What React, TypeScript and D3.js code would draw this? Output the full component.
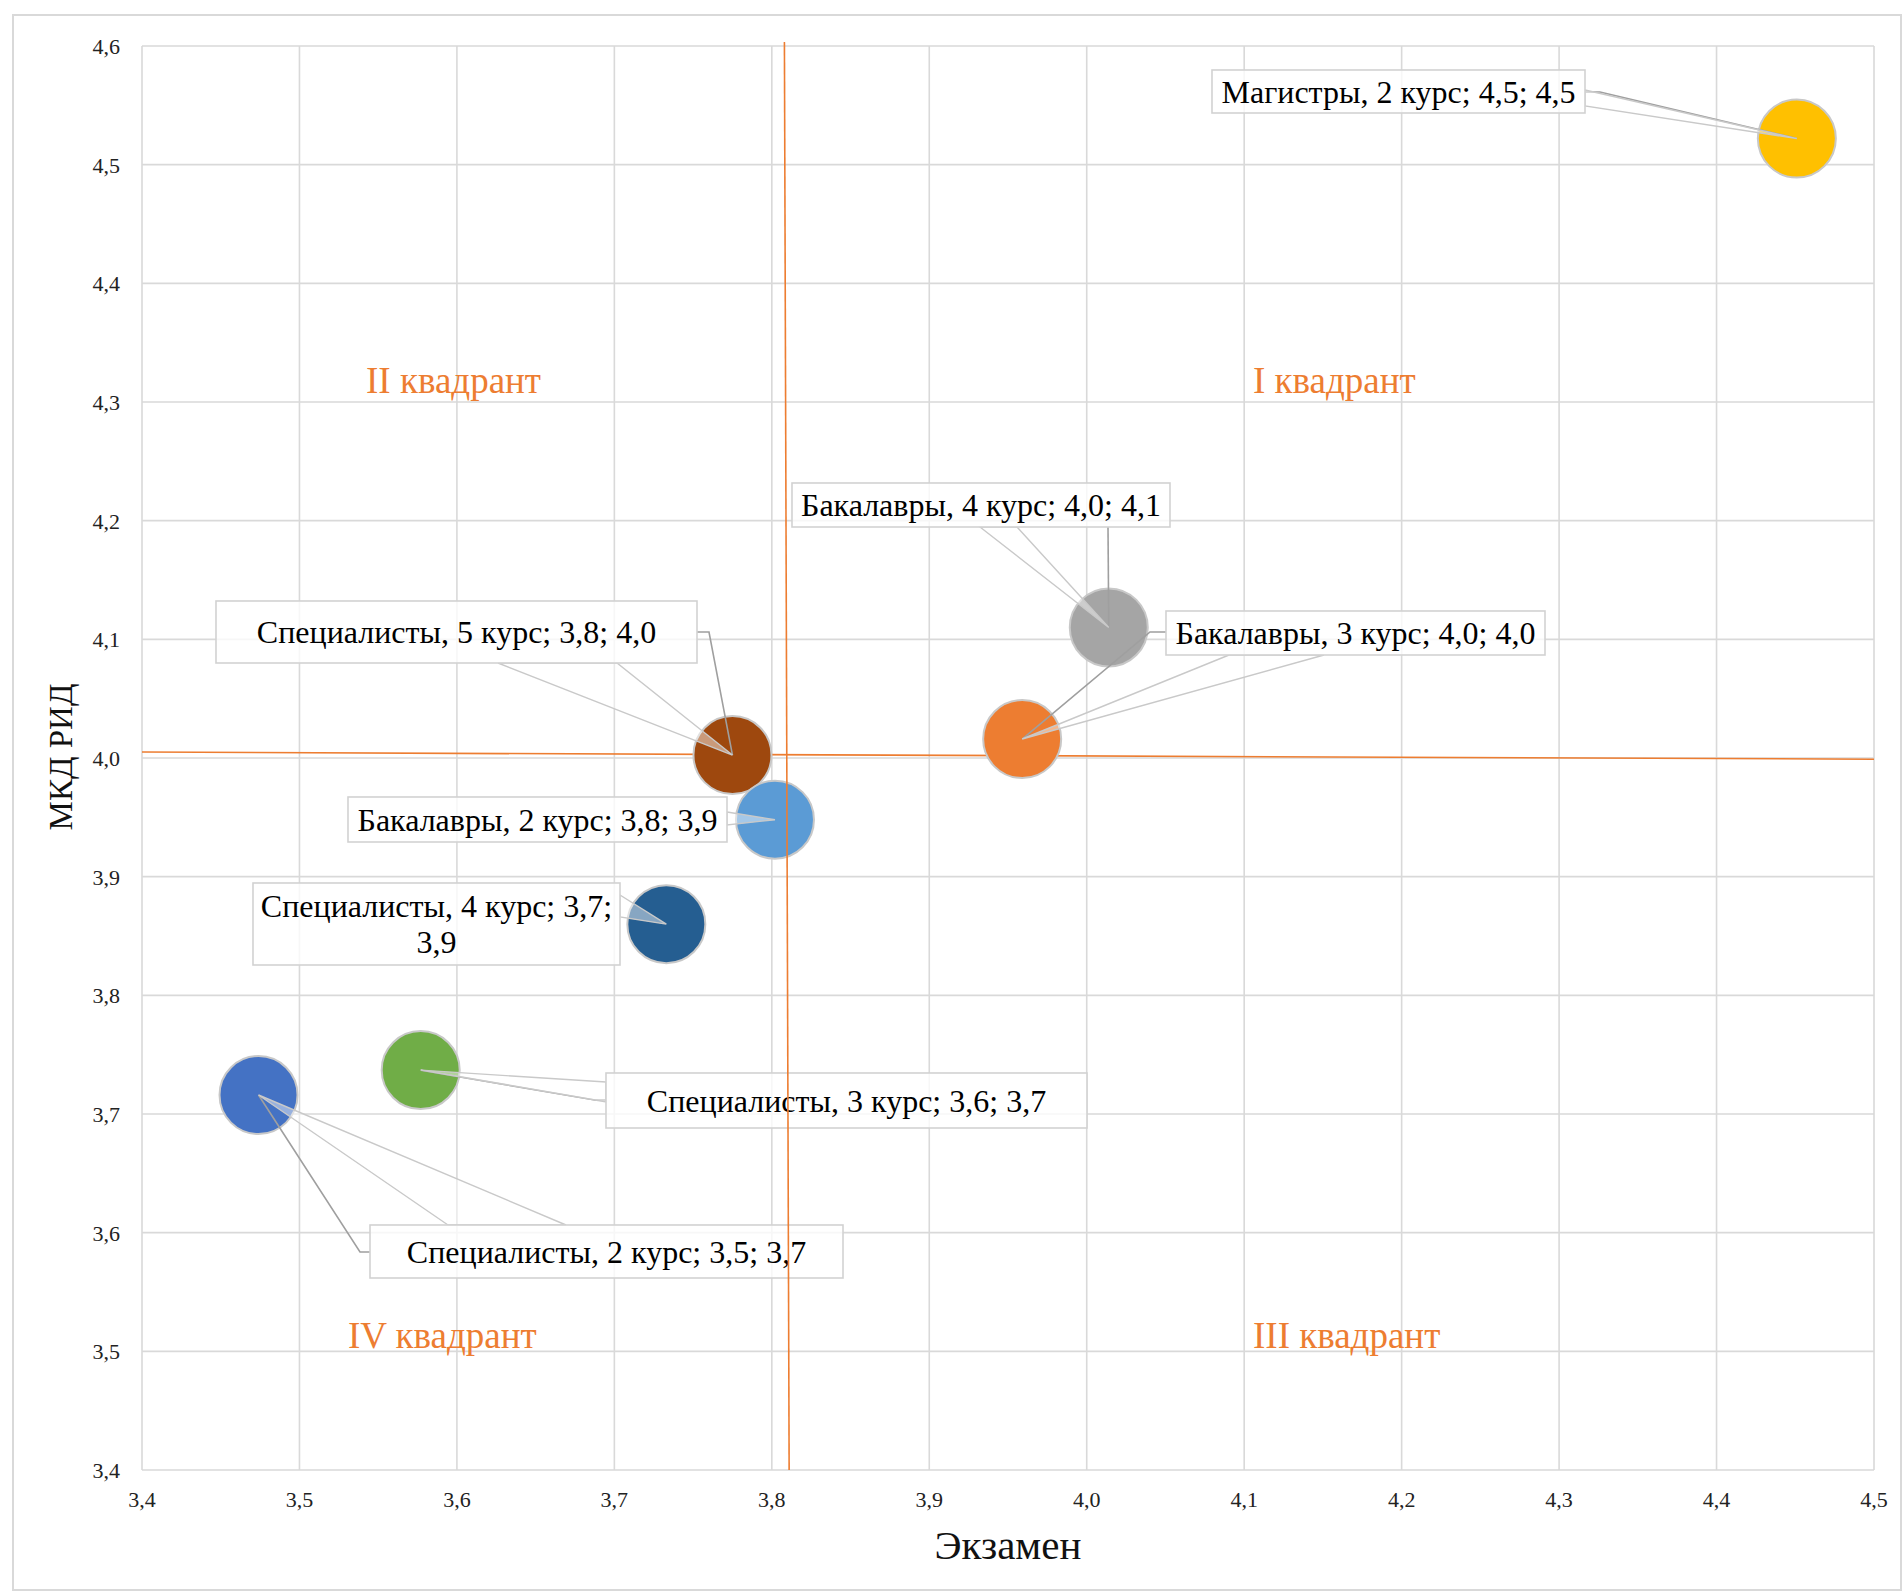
import React from "react";
import * as d3 from "d3";

// ---- data ----
const groups = [
  "Магистры, 2 курс",
  "Бакалавры, 4 курс",
  "Бакалавры, 3 курс",
  "Специалисты, 5 курс",
  "Бакалавры, 2 курс",
  "Специалисты, 4 курс",
  "Специалисты, 3 курс",
  "Специалисты, 2 курс",
];
const examScores = [4.451, 4.014, 3.959, 3.775, 3.802, 3.733, 3.577, 3.474];
const ridScores = [4.522, 4.11, 4.016, 4.0025, 3.948, 3.86, 3.737, 3.716];
const bubbleColors = ["#FFC000", "#A5A5A5", "#ED7D31", "#9E480E", "#5B9BD5", "#255E91", "#70AD47", "#4472C4"];

const xTickValues = [3.4, 3.5, 3.6, 3.7, 3.8, 3.9, 4.0, 4.1, 4.2, 4.3, 4.4, 4.5];
const yTickValues = [3.4, 3.5, 3.6, 3.7, 3.8, 3.9, 4.0, 4.1, 4.2, 4.3, 4.4, 4.5, 4.6];

const verticalDivider = [
  { x: 3.808, y: 4.6034 },
  { x: 3.811, y: 3.4 },
];
const horizontalDivider = [
  { x: 3.4, y: 4.005 },
  { x: 4.5, y: 3.999 },
];

const quadrantNames = ["I квадрант", "II квадрант", "III квадрант", "IV квадрант"];
const quadrantAnchors = [
  { x: 4.1056, y: 4.308 },
  { x: 3.5423, y: 4.308 },
  { x: 4.1056, y: 3.503 },
  { x: 3.5308, y: 3.503 },
];

// ---- layout of the callout labels (pixels) ----
const labelLayout = [
  { box: [1212, 70, 373, 43], base: [[1585, 90], [1585, 106]], leader: [[1585, 92], [1600, 92]], wrap: false },
  { box: [792, 483, 378, 44], base: [[980, 527], [1017, 527]], leader: [[1108, 527]], wrap: false },
  { box: [1166, 611, 379, 44], base: [[1229, 655], [1324, 655]], leader: [[1166, 632], [1150, 632]], wrap: false },
  { box: [216, 601, 481, 62], base: [[498, 663], [617, 663]], leader: [[697, 632], [709, 632]], wrap: false },
  { box: [348, 797, 379, 45], base: [[727, 812], [727, 825]], leader: [], wrap: false },
  { box: [253, 883, 367, 82], base: [[620, 895], [620, 917]], leader: [], wrap: true },
  { box: [606, 1073, 481, 55], base: [[606, 1082], [606, 1102]], leader: [[606, 1100], [595, 1100]], wrap: false },
  { box: [370, 1225, 473, 53], base: [[448, 1225], [566, 1225]], leader: [[370, 1252], [360, 1252]], wrap: false },
];

const W = 1904;
const H = 1592;
const margin = { left: 142, right: 30, top: 46, bottom: 122 };
const FONT = "'Liberation Serif', 'Times New Roman', serif";
const R = 39;
const LABEL_FS = 32;

const fmt = (v: number) => d3.format(".1f")(v).replace(".", ",");

export default function App() {
  const x = d3.scaleLinear().domain([3.4, 4.5]).range([margin.left, W - margin.right]);
  const y = d3.scaleLinear().domain([3.4, 4.6]).range([H - margin.bottom, margin.top]);
  const line = d3
    .line<{ x: number; y: number }>()
    .x((d) => x(d.x))
    .y((d) => y(d.y));

  const points = groups.map((g, i) => ({
    name: g,
    cx: x(examScores[i]),
    cy: y(ridScores[i]),
    color: bubbleColors[i],
    text: `${g}; ${fmt(examScores[i])}; ${fmt(ridScores[i])}`,
    lines: [`${g}; ${fmt(examScores[i])};`, fmt(ridScores[i])],
    layout: labelLayout[i],
  }));

  const x0 = x(3.4), x1 = x(4.5), y0 = y(3.4), y1 = y(4.6);

  return (
    <svg width={W} height={H} style={{ position: "absolute", left: 0, top: 0, display: "block", background: "#fff" }} fontFamily={FONT}>
      <rect x={13} y={15} width={1888} height={1575} fill="#fff" stroke="#d9d9d9" strokeWidth={2} />
      {/* grid */}
      {xTickValues.map((t) => (
        <line key={"gx" + t} x1={x(t)} x2={x(t)} y1={y1} y2={y0} stroke="#d9d9d9" strokeWidth={1.6} />
      ))}
      {yTickValues.map((t) => (
        <line key={"gy" + t} x1={x0} x2={x1} y1={y(t)} y2={y(t)} stroke="#d9d9d9" strokeWidth={1.6} />
      ))}
      {/* tick labels */}
      {xTickValues.map((t) => (
        <text key={"tx" + t} x={x(t)} y={y0 + 37} textAnchor="middle" fontSize={22} fill="#222">
          {fmt(t)}
        </text>
      ))}
      {yTickValues.map((t) => (
        <text key={"ty" + t} x={x0 - 22} y={y(t) + 8} textAnchor="end" fontSize={22} fill="#222">
          {fmt(t)}
        </text>
      ))}
      {/* axis titles */}
      <text x={1008} y={1559} textAnchor="middle" fontSize={41} fill="#111">
        Экзамен
      </text>
      <text transform={`translate(72,757) rotate(-90)`} textAnchor="middle" fontSize={33} fill="#111">
        МКД РИД
      </text>
      {/* horizontal divider */}
      <path d={line(horizontalDivider) || ""} stroke="#ED7D31" strokeWidth={1.6} fill="none" />
      {/* quadrant labels */}
      {quadrantNames.map((q, i) => (
        <text key={q} x={x(quadrantAnchors[i].x)} y={y(quadrantAnchors[i].y)} fontSize={37} fill="#ED7D31">
          {q}
        </text>
      ))}
      {/* bubbles */}
      {points.map((p) => (
        <circle key={"c" + p.name} cx={p.cx} cy={p.cy} r={R} fill={p.color} stroke="#c8c8c8" strokeWidth={2} />
      ))}
      {/* callouts */}
      {points.map((p) => {
        const [bx, by, bw, bh] = p.layout.box;
        const b = p.layout.base;
        const wedge = `M${b[0][0]},${b[0][1]}L${p.cx},${p.cy}L${b[1][0]},${b[1][1]}Z`;
        const leaderPts = [...p.layout.leader, [p.cx, p.cy]];
        const midX = bx + bw / 2;
        const midY = by + bh / 2;
        return (
          <g key={"l" + p.name}>
            {p.layout.leader.length > 0 && (
              <polyline
                points={leaderPts.map((q) => q.join(",")).join(" ")}
                fill="none"
                stroke="#9f9f9f"
                strokeWidth={1.6}
              />
            )}
            <path d={wedge} fill="rgba(255,255,255,0.45)" stroke="#c9c9c9" strokeWidth={1.4} />
            <rect x={bx} y={by} width={bw} height={bh} fill="rgba(255,255,255,0.78)" stroke="#d2d2d2" strokeWidth={1.6} />
            {p.layout.wrap ? (
              <text textAnchor="middle" fontSize={LABEL_FS} fill="#000">
                <tspan x={midX} y={midY - 18 + 11}>{p.lines[0]}</tspan>
                <tspan x={midX} y={midY + 18 + 11}>{p.lines[1]}</tspan>
              </text>
            ) : (
              <text x={midX} y={midY + 11} textAnchor="middle" fontSize={LABEL_FS} fill="#000">
                {p.text}
              </text>
            )}
          </g>
        );
      })}
      {/* vertical divider on top */}
      <path d={line(verticalDivider) || ""} stroke="#ED7D31" strokeWidth={1.6} fill="none" />
    </svg>
  );
}
